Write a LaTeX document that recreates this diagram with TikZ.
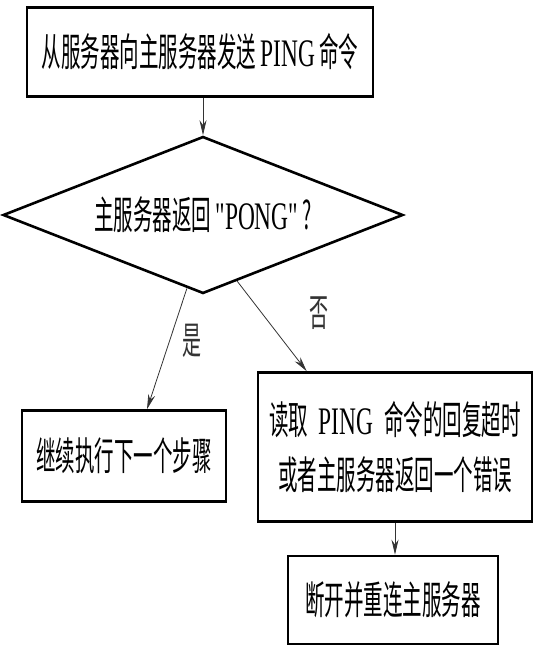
\documentclass[tikz,border=0pt]{standalone}
\usepackage{fontspec}
\setmainfont[FakeStretch=0.5]{Noto Sans CJK SC}
\newfontfamily\latin[FakeStretch=0.6]{Liberation Serif}
\usetikzlibrary{shapes.geometric, arrows.meta, positioning, calc}
\tikzset{
  stepbox/.style={rectangle, draw=black, fill=white, line width=2.6pt,
    align=center, inner sep=4pt},
  decision/.style={diamond, draw=black, fill=white, line width=2.6pt,
    aspect=2.5, inner sep=0pt, minimum width=400pt, minimum height=157pt},
  arrow/.style={-{Stealth[length=15pt,width=7pt]}, line width=0.8pt, color=black!80},
  lbl/.style={font=\fontsize{38}{40}\selectfont}
}
\begin{document}
\begin{tikzpicture}[x=1pt, y=1pt, font=\fontsize{39}{55}\selectfont]
  \useasboundingbox (0,0) rectangle (537,-652);
  % flow nodes
  \node[stepbox, minimum width=346pt, minimum height=89pt] (ping) at (200,-52)
    {从服务器向主服务器发送 {\latin PING} 命令};
  \node[decision] (check) at (203,-215) {主服务器返回 {\latin "PONG"} ?\hspace{16pt}};
  \node[stepbox, minimum width=204pt, minimum height=91pt] (next) at (124,-456)
    {继续执行下一个步骤};
  \node[stepbox, minimum width=274pt, minimum height=149pt] (fail) at (395,-447)
    {读取 \,{\latin PING}\, 命令的回复超时\\或者主服务器返回一个错误};
  \node[stepbox, minimum width=210pt, minimum height=88pt] (reconn) at (393,-600)
    {断开并重连主服务器};

  % tap points on the diamond and boxes
  \coordinate (yesfrom) at ($(check.south)!0.08!(check.west)$);
  \coordinate (yesto)   at ($(next.north)+(23,0)$);
  \coordinate (nofrom)  at ($(check.south)!0.17!(check.east)$);
  \coordinate (noto)    at ($(fail.north west)+(50,0)$);

  % connectors
  \draw[arrow] (check.north |- ping.south) -- (check.north);
  \draw[arrow] (yesfrom) -- node[lbl, right=12pt, yshift=8pt]{是} (yesto);
  \draw[arrow] (nofrom) -- node[lbl, right=34pt, yshift=13pt]{否} (noto);
  \draw[arrow] (fail.south) -- (reconn.north -| fail.south);
\end{tikzpicture}
\end{document}
